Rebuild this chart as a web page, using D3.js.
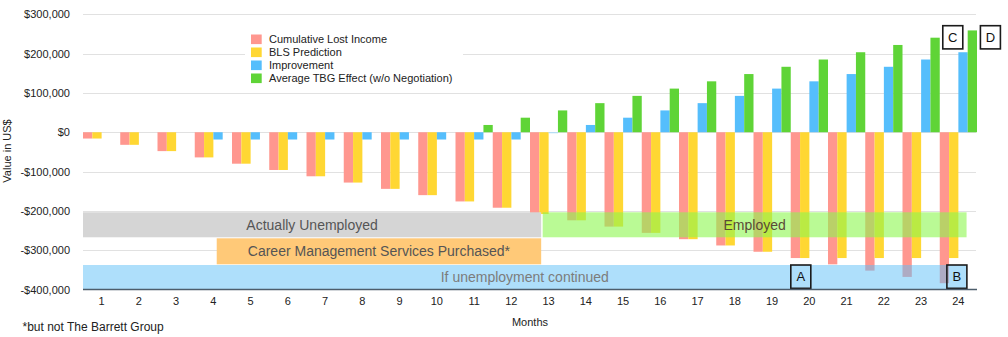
<!DOCTYPE html>
<html>
<head>
<meta charset="utf-8">
<script src="https://cdn.jsdelivr.net/npm/d3@7"></script>
<style>
  body { margin: 0; background: #fff; }
  svg { display: block; font-family: "Liberation Sans", Arial, Helvetica, sans-serif; }
</style>
</head>
<body>
<div id="chart"></div>
<script>
"use strict";
// data
var months = [1,2,3,4,5,6,7,8,9,10,11,12,13,14,15,16,17,18,19,20,21,22,23,24];
var seriesNames = ["Cumulative Lost Income", "BLS Prediction", "Improvement", "Average TBG Effect (w/o Negotiation)"];
var seriesColors = ["#ff978f", "#ffd733", "#55befc", "#5fd437"];
var lostIncome = [-16000,-32000,-48000,-64000,-80000,-96000,-112000,-128000,-144000,-160000,-176000,-192000,
  -208000,-224000,-240000,-256000,-272000,-288000,-304000,-320000,-336000,-352000,-368000,-384000];
var blsPrediction = [-16000,-32000,-48000,-64000,-80000,-96000,-112000,-128000,-144000,-160000,-176000,-192000,
  -208000,-224000,-240000,-256000,-272000,-288000,-304000,-320000,-320000,-320000,-320000,-320000];
var improvement = [null,null,null,-18500,-18500,-18500,-18500,-18500,-18500,-18500,-18500,-18500,
  0,18500,37000,55500,74000,92500,111000,129500,148000,166500,185000,203500];
var tbgEffect = [null,null,null,null,null,null,null,null,null,null,18500,37000,
  55500,74000,92500,111000,129500,148000,166500,185000,203500,222000,240500,259000];
var yTicks = [300000,200000,100000,0,-100000,-200000,-300000,-400000];

// annotation bands, in months
var bandLabels = ["Actually Unemployed", "Employed", "Career Management Services Purchased*", "If unemployment continued"];
var bandFrom = [0.5, 12.84, 4.09, 0.5];
var bandTo = [12.8, 24.22, 12.8, 24.22];
var boxLetters = ["A", "B", "C", "D"];
var boxMonth = [19.77, 23.96, 23.85, 24.86];

var W = 1008, H = 337;
var svg = d3.select("#chart").append("svg").attr("width", W).attr("height", H);

var x = d3.scaleBand().domain(months).range([83, 977]).padding(0);
var xs = d3.scaleBand().domain(d3.range(seriesNames.length)).range([0, x.bandwidth()]).padding(0);
var xm = d3.scaleLinear().domain([0.5, 24.5]).range([83, 977]);
var y = d3.scaleLinear().domain([-400000, 300000]).range([289.5, 14.3]);

var money = function(v) {
  var f = d3.format(",");
  return v < 0 ? "-$" + f(-v) : "$" + f(v);
};

// grid
svg.append("g").selectAll("line")
  .data(yTicks.filter(function(d) { return d > -400000; }))
  .enter().append("line")
  .attr("x1", 83).attr("x2", 976)
  .attr("y1", function(d) { return Math.round(y(d)) + 0.5; })
  .attr("y2", function(d) { return Math.round(y(d)) + 0.5; })
  .attr("stroke", "#e1e1e1").attr("stroke-width", 1);

// bars
var allSeries = [lostIncome, blsPrediction, improvement, tbgEffect];
var barData = [];
allSeries.forEach(function(vals, s) {
  vals.forEach(function(v, i) {
    if (v !== null) { barData.push({ m: months[i], s: s, v: v }); }
  });
});
svg.append("g").selectAll("rect")
  .data(barData)
  .enter().append("rect")
  .attr("x", function(d) { return x(d.m) + xs(d.s); })
  .attr("width", xs.bandwidth())
  .attr("y", function(d) { return Math.min(y(d.v), y(0)); })
  .attr("height", function(d) { return Math.max(1, Math.abs(y(d.v) - y(0))); })
  .attr("fill", function(d) { return d.v === 0 ? "#aadcfb" : seriesColors[d.s]; });

// bands
var bandTop = [-203600, -203600, -269800, -337700];
var bandBottom = [-267200, -267200, -335900, -398700];
var bandFill = ["#d5d5d5", "#8cf74f", "#ffc978", "#5dc0f7"];
var bandOpacity = [1, 0.6, 1, 0.5];
var bandText = ["#555555", "#5a4a35", "#555555", "#7c7c7c"];
var bands = svg.append("g");
bandLabels.forEach(function(lab, i) {
  bands.append("rect")
    .attr("x", xm(bandFrom[i]))
    .attr("width", xm(bandTo[i]) - xm(bandFrom[i]))
    .attr("y", y(bandTop[i]))
    .attr("height", y(bandBottom[i]) - y(bandTop[i]))
    .attr("fill", bandFill[i])
    .attr("fill-opacity", bandOpacity[i]);
});
bandLabels.forEach(function(lab, i) {
  bands.append("text")
    .attr("x", (xm(bandFrom[i]) + xm(bandTo[i])) / 2)
    .attr("y", (y(bandTop[i]) + y(bandBottom[i])) / 2)
    .attr("dy", "0.36em")
    .attr("text-anchor", "middle")
    .attr("font-size", 14)
    .attr("fill", bandText[i])
    .text(lab);
});

// lettered boxes
var boxTop = [-337700, -337700, 271000, 271000];
var boxBottom = [-397000, -397000, 212000, 212000];
boxLetters.forEach(function(l, i) {
  var cx = xm(boxMonth[i]);
  var w = 20;
  svg.append("rect")
    .attr("x", cx - w / 2).attr("width", w)
    .attr("y", y(boxTop[i])).attr("height", y(boxBottom[i]) - y(boxTop[i]))
    .attr("fill", "none").attr("stroke", "#1b1b1b").attr("stroke-width", 1.6);
  svg.append("text")
    .attr("x", cx)
    .attr("y", (y(boxTop[i]) + y(boxBottom[i])) / 2)
    .attr("dy", "0.36em")
    .attr("text-anchor", "middle")
    .attr("font-size", 13)
    .attr("fill", "#111")
    .text(l);
});

// axes
var xAxis = svg.append("g")
  .attr("transform", "translate(0," + y(-400000) + ")")
  .call(d3.axisBottom(x).tickSize(0).tickPadding(8));
xAxis.select(".domain").attr("stroke", "#4d5d6b").attr("stroke-width", 1.5).attr("d", "M83,0H977");
xAxis.selectAll("text").attr("font-size", 11).attr("fill", "#222").attr("font-family", null);

var yAxis = svg.append("g")
  .attr("transform", "translate(83,0)")
  .call(d3.axisLeft(y).tickValues(yTicks).tickFormat(money).tickSize(0).tickPadding(13));
yAxis.select(".domain").remove();
yAxis.selectAll("text").attr("font-size", 11).attr("fill", "#222").attr("font-family", null);

svg.append("text")
  .attr("transform", "translate(11,151) rotate(-90)")
  .attr("text-anchor", "middle")
  .attr("font-size", 11).attr("fill", "#222")
  .text("Value in US$");

svg.append("text")
  .attr("x", 530).attr("y", 325.5)
  .attr("text-anchor", "middle")
  .attr("font-size", 11).attr("fill", "#222")
  .text("Months");

svg.append("text")
  .attr("x", 22.5).attr("y", 331)
  .attr("font-size", 12).attr("fill", "#222")
  .text("*but not The Barrett Group");

// legend
var legend = svg.append("g");
legend.append("rect")
  .attr("x", 245).attr("y", 28).attr("width", 218).attr("height", 60)
  .attr("fill", "#fff");
seriesNames.forEach(function(name, i) {
  legend.append("rect")
    .attr("x", 251).attr("y", 34.5 + i * 13)
    .attr("width", 10.7).attr("height", 9.6)
    .attr("fill", seriesColors[i]);
  legend.append("text")
    .attr("x", 269).attr("y", 39.3 + i * 13)
    .attr("dy", "0.36em")
    .attr("font-size", 11).attr("fill", "#222")
    .text(name);
});
</script>
</body>
</html>
